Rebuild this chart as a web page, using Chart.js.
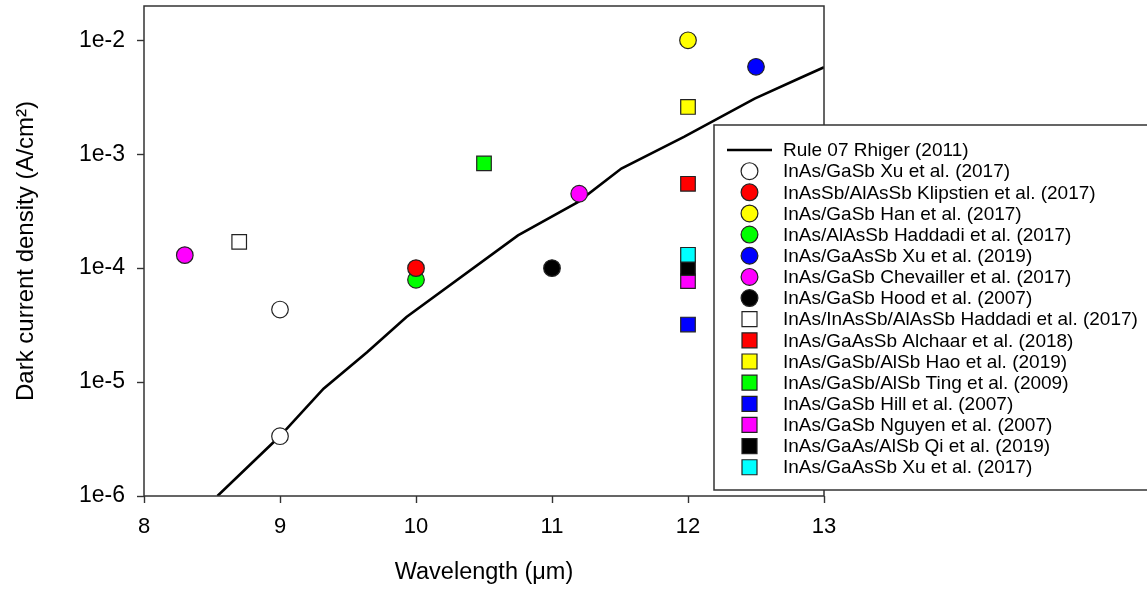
<!DOCTYPE html>
<html>
<head>
<meta charset="utf-8">
<script src="https://cdn.jsdelivr.net/npm/chart.js@4.4.1/dist/chart.umd.min.js"></script>
<style>
  html, body { margin: 0; padding: 0; background: #fff; }
  #c { display: block; }
</style>
</head>
<body>
<canvas id="c" width="1147" height="590"></canvas>
<script>
// ---------- data ----------
const xTickLabels = ['8', '9', '10', '11', '12', '13'];
const yTickLabels = ['1e-6', '1e-5', '1e-4', '1e-3', '1e-2'];

const rule07X = [8.54, 9.0, 9.32, 9.64, 9.93, 10.75, 11.19, 11.51, 11.97, 12.49, 12.82, 13.0];
const rule07Y = [1.0e-6, 3.36e-6, 8.75e-6, 1.83e-5, 3.72e-5, 1.94e-4, 3.80e-4, 7.48e-4, 1.42e-3, 3.08e-3, 4.64e-3, 5.80e-3];

const xuGaSb2017X = [9, 9];            const xuGaSb2017Y = [4.33e-5, 3.35e-6];
const klipstienX = [10];               const klipstienY = [1.0e-4];
const hanX = [12];                     const hanY = [1.0e-2];
const haddadiCircX = [10];             const haddadiCircY = [7.9e-5];
const xu2019X = [12.5];                const xu2019Y = [5.85e-3];
const chevaillerX = [8.3, 11.2];       const chevaillerY = [1.3e-4, 4.5e-4];
const hoodX = [11];                    const hoodY = [1.0e-4];
const haddadiSqX = [8.7];              const haddadiSqY = [1.7e-4];
const alchaarX = [12];                 const alchaarY = [5.5e-4];
const haoX = [12];                     const haoY = [2.6e-3];
const tingX = [10.5];                  const tingY = [8.3e-4];
const hillX = [12];                    const hillY = [3.2e-5];
const nguyenX = [12];                  const nguyenY = [7.7e-5];
const qiX = [12];                      const qiY = [1.0e-4];
const xuGaAsSb2017X = [12];            const xuGaAsSb2017Y = [1.31e-4];

const seriesLabels = [
  'Rule 07 Rhiger (2011)',
  'InAs/GaSb Xu et al. (2017)',
  'InAsSb/AlAsSb Klipstien et al. (2017)',
  'InAs/GaSb Han et al. (2017)',
  'InAs/AlAsSb Haddadi et al. (2017)',
  'InAs/GaAsSb Xu et al. (2019)',
  'InAs/GaSb Chevailler et al. (2017)',
  'InAs/GaSb Hood et al. (2007)',
  'InAs/InAsSb/AlAsSb Haddadi et al. (2017)',
  'InAs/GaAsSb Alchaar et al. (2018)',
  'InAs/GaSb/AlSb Hao et al. (2019)',
  'InAs/GaSb/AlSb Ting et al. (2009)',
  'InAs/GaSb Hill et al. (2007)',
  'InAs/GaSb Nguyen et al. (2007)',
  'InAs/GaAs/AlSb Qi et al. (2019)',
  'InAs/GaAsSb Xu et al. (2017)'
];

// ---------- build datasets ----------
const pts = (xs, ys) => xs.map((x, i) => ({ x: x, y: ys[i] }));
const FONT = '"Liberation Sans", Arial, sans-serif';
const EDGE = '#222';

function markerSet(label, xs, ys, color, shape) {
  return {
    label: label,
    data: pts(xs, ys),
    showLine: false,
    pointStyle: shape,
    pointRadius: shape === 'rect' ? 10.3 : 8.3,
    pointBackgroundColor: color,
    pointBorderColor: EDGE,
    pointBorderWidth: 1.2,
    backgroundColor: color,
    borderColor: EDGE
  };
}

const datasets = [
  {
    label: seriesLabels[0],
    data: pts(rule07X, rule07Y),
    showLine: true,
    pointRadius: 0,
    borderColor: '#000',
    borderWidth: 2.6,
    fill: false,
    tension: 0,
    order: 20
  },
  markerSet(seriesLabels[1], xuGaSb2017X, xuGaSb2017Y, '#ffffff', 'circle'),
  markerSet(seriesLabels[2], klipstienX, klipstienY, '#ff0000', 'circle'),
  markerSet(seriesLabels[3], hanX, hanY, '#ffff00', 'circle'),
  markerSet(seriesLabels[4], haddadiCircX, haddadiCircY, '#00ff00', 'circle'),
  markerSet(seriesLabels[5], xu2019X, xu2019Y, '#0000ff', 'circle'),
  markerSet(seriesLabels[6], chevaillerX, chevaillerY, '#ff00ff', 'circle'),
  markerSet(seriesLabels[7], hoodX, hoodY, '#000000', 'circle'),
  markerSet(seriesLabels[8], haddadiSqX, haddadiSqY, '#ffffff', 'rect'),
  markerSet(seriesLabels[9], alchaarX, alchaarY, '#ff0000', 'rect'),
  markerSet(seriesLabels[10], haoX, haoY, '#ffff00', 'rect'),
  markerSet(seriesLabels[11], tingX, tingY, '#00ff00', 'rect'),
  markerSet(seriesLabels[12], hillX, hillY, '#0000ff', 'rect'),
  markerSet(seriesLabels[13], nguyenX, nguyenY, '#ff00ff', 'rect'),
  markerSet(seriesLabels[14], qiX, qiY, '#000000', 'rect'),
  markerSet(seriesLabels[15], xuGaAsSb2017X, xuGaAsSb2017Y, '#00ffff', 'rect')
];
// stacking order at x = 12: cyan on top, then black, magenta below
datasets[13].order = 3; datasets[14].order = 2; datasets[15].order = 1;
datasets[4].order = 5; datasets[2].order = 4;

// ---------- plugins ----------
const frameAndTicks = {
  id: 'frameAndTicks',
  afterDatasetsDraw(chart) {
    const { ctx, chartArea: a, scales } = chart;
    ctx.save();
    ctx.strokeStyle = '#333';
    ctx.lineWidth = 1.4;
    const ys = scales.y;
    ys.ticks.forEach(t => {
      const p = ys.getPixelForValue(t.value);
      if (p < a.top - 0.5 || p > a.bottom + 0.5) return;
      const l = Math.log10(t.value);
      const major = Math.abs(l - Math.round(l)) < 1e-6;
      ctx.beginPath();
      ctx.moveTo(a.left - (major ? 7 : 4), Math.round(p) + 0.5);
      ctx.lineTo(a.left, Math.round(p) + 0.5);
      ctx.stroke();
    });
    const xs = scales.x;
    xs.ticks.forEach(t => {
      const p = xs.getPixelForValue(t.value);
      ctx.beginPath();
      ctx.moveTo(Math.round(p) + 0.5, a.bottom);
      ctx.lineTo(Math.round(p) + 0.5, a.bottom + 7);
      ctx.stroke();
    });
    ctx.lineWidth = 1.5;
    ctx.strokeRect(a.left, a.top, a.right - a.left, a.bottom - a.top);
    ctx.restore();
  }
};

const boxLegend = {
  id: 'boxLegend',
  afterDraw(chart) {
    const { ctx } = chart;
    const bx = 714, by = 125, bw = 440, bh = 365;
    ctx.save();
    ctx.fillStyle = '#fff';
    ctx.fillRect(bx, by, bw, bh);
    ctx.strokeStyle = '#333';
    ctx.lineWidth = 1.5;
    ctx.strokeRect(bx, by, bw, bh);
    const rowH = 21.15, y0 = 150, symX = 749.5, textX = 783;
    ctx.font = '19px ' + FONT;
    ctx.textBaseline = 'middle';
    ctx.textAlign = 'left';
    chart.data.datasets.forEach((ds, i) => {
      const y = y0 + i * rowH;
      if (ds.showLine) {
        ctx.strokeStyle = ds.borderColor;
        ctx.lineWidth = 2.6;
        ctx.beginPath();
        ctx.moveTo(727, y);
        ctx.lineTo(772, y);
        ctx.stroke();
      } else {
        ctx.fillStyle = ds.pointBackgroundColor;
        ctx.strokeStyle = EDGE;
        ctx.lineWidth = 1.2;
        ctx.beginPath();
        if (ds.pointStyle === 'rect') {
          ctx.rect(symX - 7.5, y - 7.5, 15, 15);
        } else {
          ctx.arc(symX, y, 8.4, 0, Math.PI * 2);
        }
        ctx.fill();
        ctx.stroke();
      }
      ctx.fillStyle = '#000';
      ctx.fillText(ds.label, textX, y + 1);
    });
    ctx.restore();
  }
};

// ---------- chart ----------
new Chart(document.getElementById('c'), {
  type: 'scatter',
  data: { datasets: datasets },
  plugins: [frameAndTicks, boxLegend],
  options: {
    responsive: false,
    devicePixelRatio: 1,
    animation: false,
    events: [],
    layout: { autoPadding: false, padding: { top: 6, right: 323, left: 0, bottom: 0 } },
    plugins: { legend: { display: false }, tooltip: { enabled: false } },
    scales: {
      x: {
        type: 'linear',
        min: 8, max: 13,
        border: { display: false },
        grid: { display: false, drawTicks: false },
        ticks: {
          stepSize: 1,
          autoSkip: false,
          maxRotation: 0,
          padding: 18,
          color: '#000',
          font: { family: FONT, size: 22 },
          callback: (v) => {
            const i = xTickLabels.indexOf(String(v));
            return i >= 0 ? xTickLabels[i] : null;
          }
        },
        title: {
          display: true,
          text: 'Wavelength (\u03bcm)',
          color: '#000',
          font: { family: FONT, size: 23.5 },
          padding: { top: 0, bottom: 3 }
        },
        afterFit: (s) => { s.height = 94; s.paddingLeft = 0; s.paddingRight = 0; }
      },
      y: {
        type: 'logarithmic',
        min: 1e-6, max: 0.02,
        border: { display: false },
        grid: { display: false, drawTicks: false },
        ticks: {
          autoSkip: false,
          padding: 19,
          color: '#000',
          font: { family: FONT, size: 23 },
          callback: (v) => {
            const l = Math.log10(v);
            if (Math.abs(l - Math.round(l)) > 1e-6) return null;
            const s = '1e' + Math.round(l);
            return yTickLabels.includes(s) ? s : null;
          }
        },
        title: {
          display: true,
          text: 'Dark current density (A/cm\u00b2)',
          color: '#000',
          font: { family: FONT, size: 24 },
          padding: { top: 12, bottom: 0 }
        },
        afterFit: (s) => { s.width = 144; s.paddingTop = 0; s.paddingBottom = 0; }
      }
    }
  }
});
</script>
</body>
</html>
